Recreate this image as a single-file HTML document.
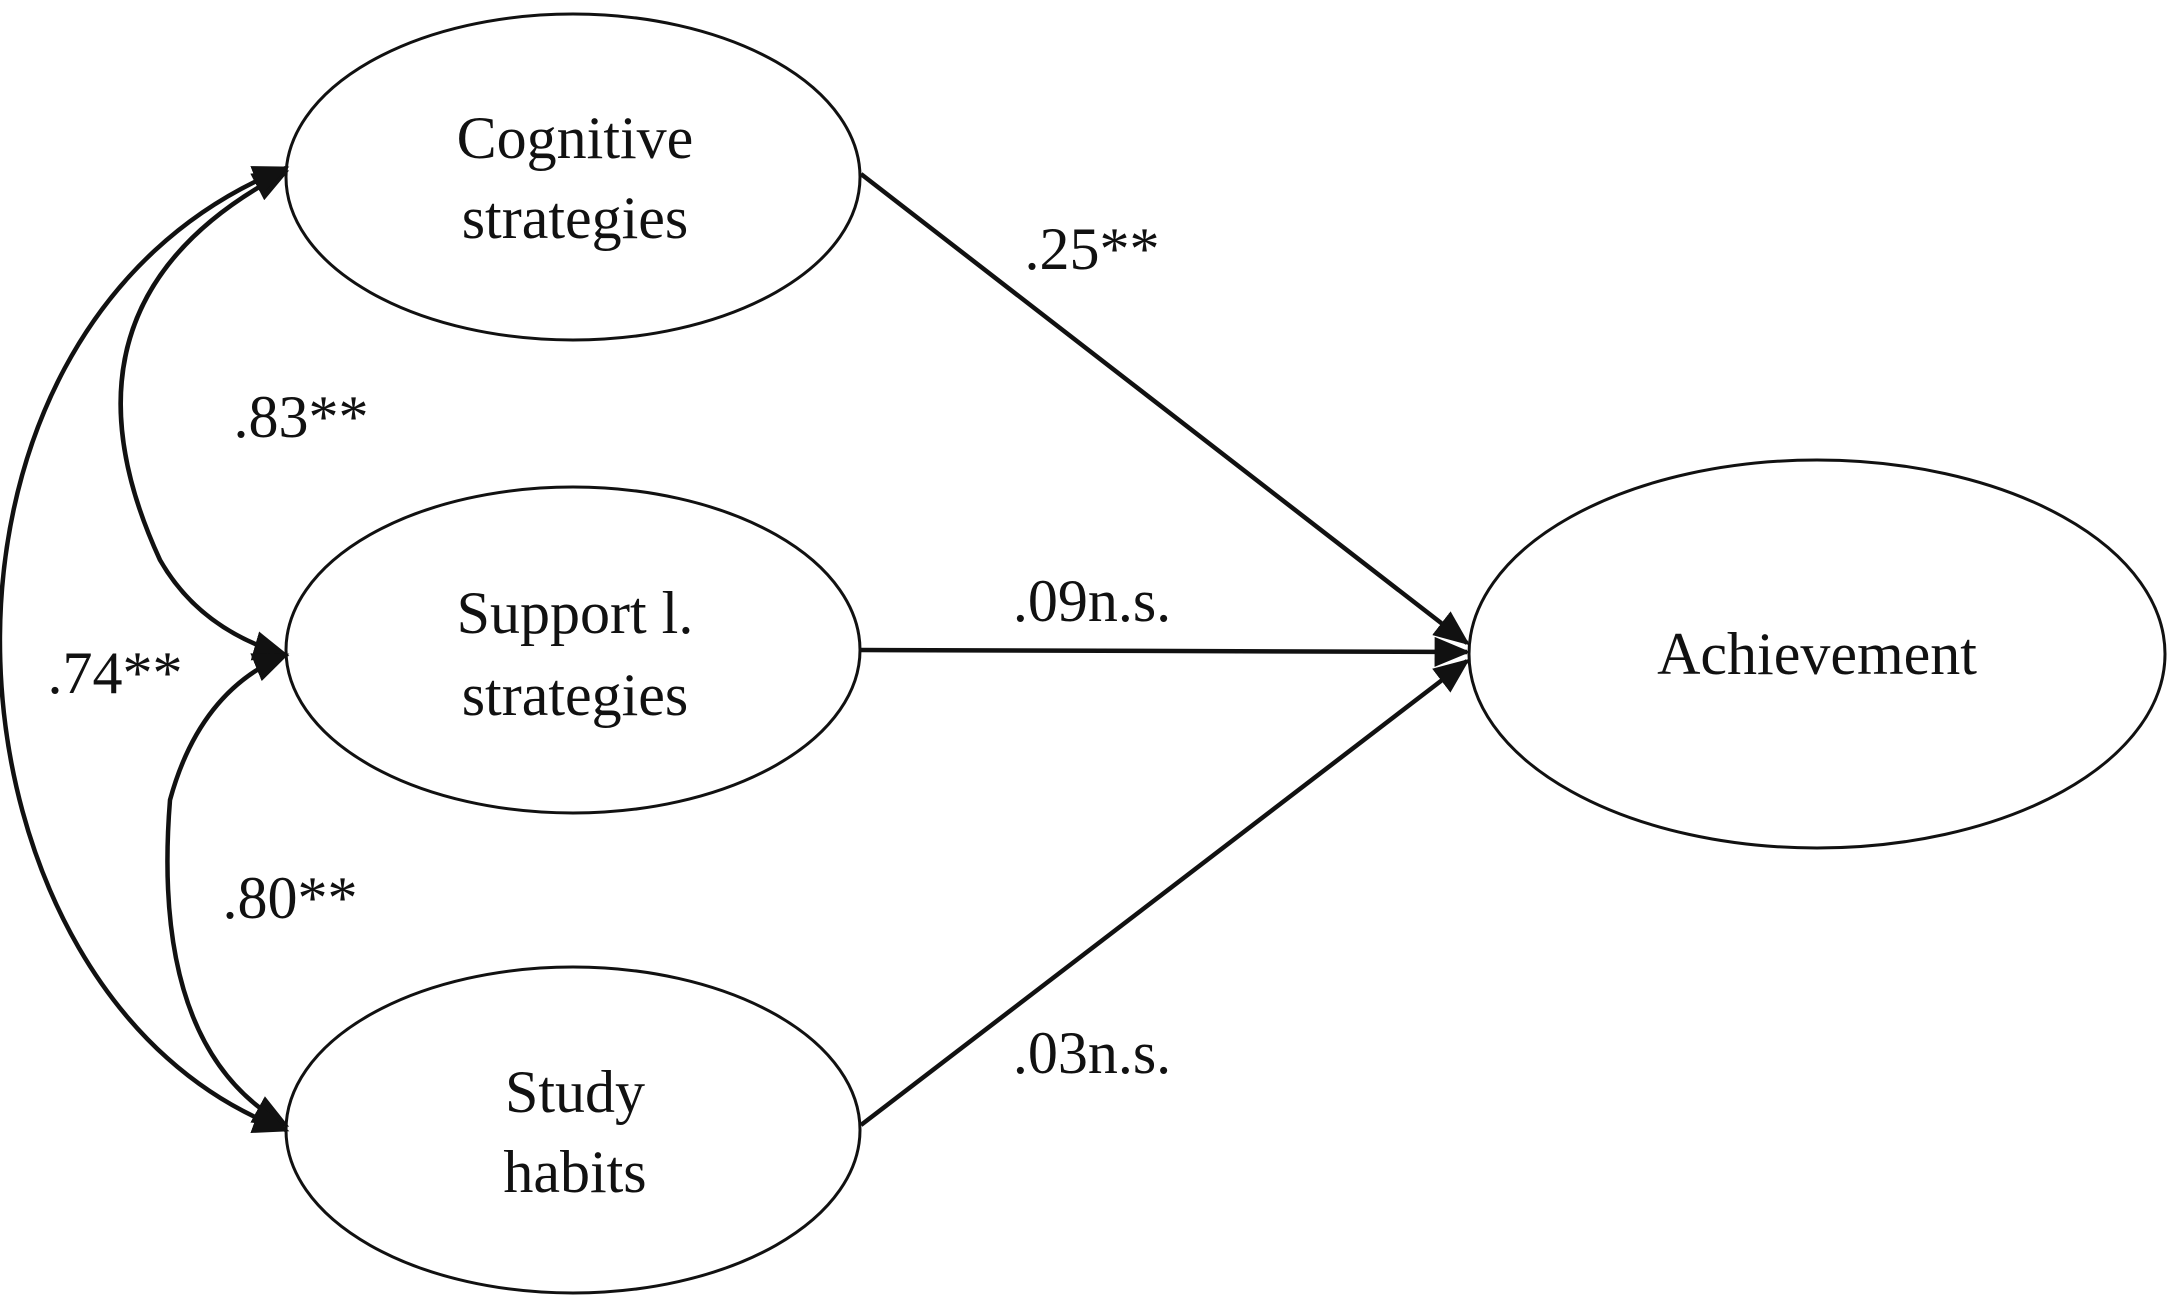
<!DOCTYPE html>
<html><head><meta charset="utf-8"><style>html,body{margin:0;padding:0;background:#fff}svg{display:block}</style></head>
<body>
<svg width="2167" height="1303" viewBox="0 0 2167 1303" xmlns="http://www.w3.org/2000/svg" font-family="'Liberation Serif', serif" font-size="60" fill="#111">
<defs>
<marker id="a" markerWidth="10" markerHeight="10" refX="9" refY="5" orient="auto-start-reverse" markerUnits="userSpaceOnUse" viewBox="0 0 10 10">
<path d="M0,0 L10,5 L0,10 z" fill="#111"/>
</marker>
<marker id="b" viewBox="0 0 10 10" refX="9" refY="5" markerWidth="36" markerHeight="30" orient="auto-start-reverse" markerUnits="userSpaceOnUse" preserveAspectRatio="none">
<path d="M0,0 L10,5 L0,10 z" fill="#111"/>
</marker>
</defs>
<g fill="none" stroke="#111" stroke-width="3">
<ellipse cx="573" cy="177" rx="287" ry="163"/>
<ellipse cx="573" cy="650" rx="287" ry="163"/>
<ellipse cx="573" cy="1130" rx="287" ry="163"/>
<ellipse cx="1817" cy="654" rx="348" ry="194"/>
</g>
<g fill="none" stroke="#111" stroke-width="4.5">
<line x1="861" y1="174" x2="1467" y2="643" marker-end="url(#b)"/>
<line x1="861" y1="650" x2="1467" y2="652" marker-end="url(#b)"/>
<line x1="861" y1="1125" x2="1467" y2="661" marker-end="url(#b)"/>
<path d="M286,172 Q40,300 160,560 Q200,630 286,655" marker-start="url(#b)" marker-end="url(#b)"/>
<path d="M286,655 Q200,690 170,800 Q150,1050 286,1125" marker-start="url(#b)" marker-end="url(#b)"/>
<path d="M286,168 C-120,330 -70,1000 286,1130" marker-start="url(#b)" marker-end="url(#b)"/>
</g>
<g text-anchor="middle" dominant-baseline="central">
<text x="575" y="138">Cognitive</text>
<text x="575" y="218">strategies</text>
<text x="575" y="613">Support l.</text>
<text x="575" y="695">strategies</text>
<text x="575" y="1092">Study</text>
<text x="575" y="1172">habits</text>
<text x="1817" y="654">Achievement</text>
<text x="1092" y="249">.25**</text>
<text x="301" y="417">.83**</text>
<text x="1092" y="601">.09n.s.</text>
<text x="115" y="673">.74**</text>
<text x="290" y="898">.80**</text>
<text x="1092" y="1053">.03n.s.</text>
</g>
</svg>
</body></html>
